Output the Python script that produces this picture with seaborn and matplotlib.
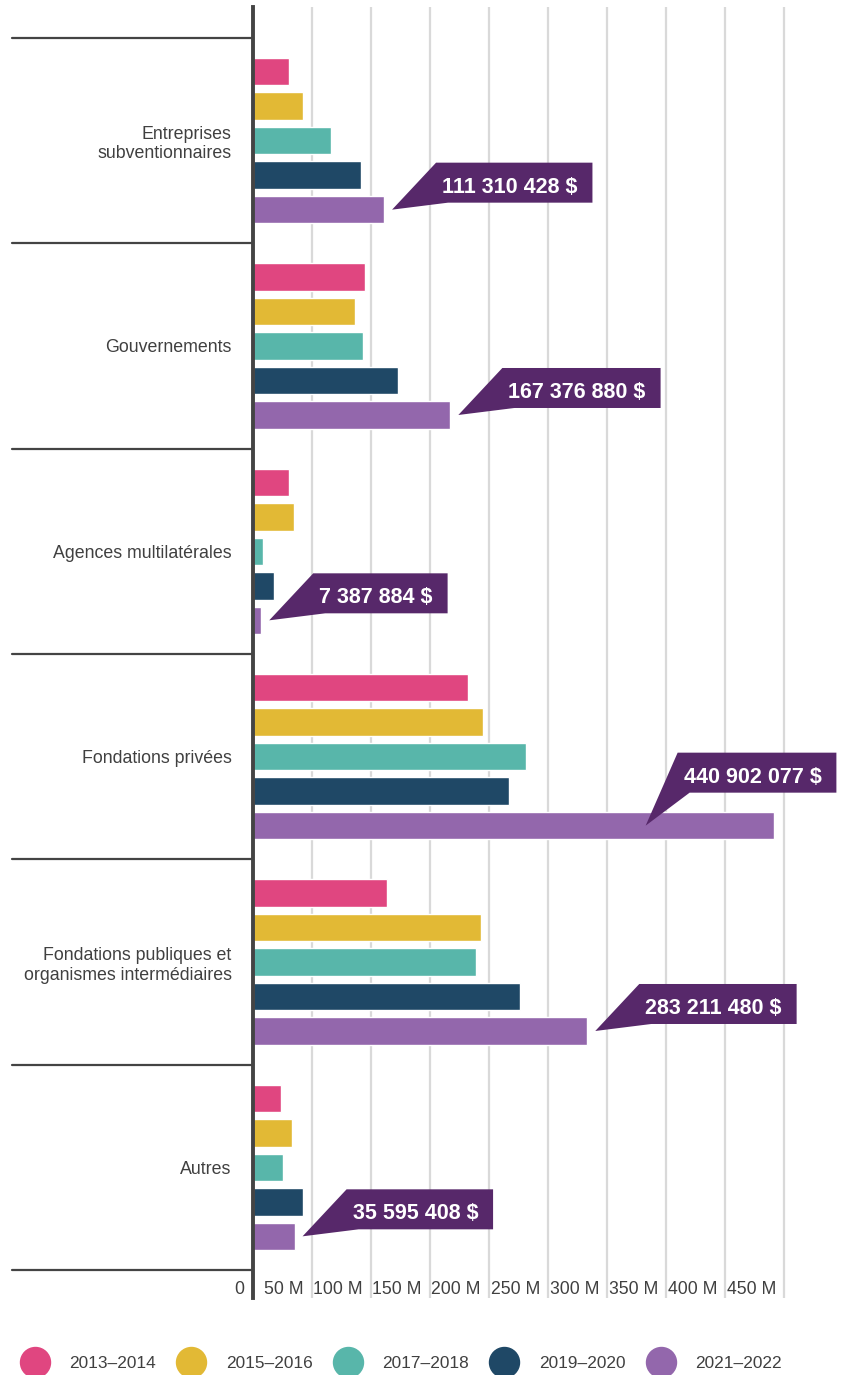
import numpy as np
import pandas as pd
import matplotlib
matplotlib.use("Agg")
import matplotlib.pyplot as plt
import seaborn as sns
from matplotlib.transforms import ScaledTranslation, blended_transform_factory
from matplotlib.patches import Polygon
from matplotlib.lines import Line2D

# ---------------- data ----------------
categories = [
    "Entreprises\nsubventionnaires",
    "Gouvernements",
    "Agences multilatérales",
    "Fondations privées",
    "Fondations publiques et\norganismes intermédiaires",
    "Autres",
]
periods = ["2013–2014", "2015–2016", "2017–2018", "2019–2020", "2021–2022"]
# values in millions of $
v_2013_2014 = [31.3, 95.6, 31.3, 181.9, 114.2, 24.5]
v_2015_2016 = [43.1, 87.1, 34.7, 195.4, 193.7, 33.0]
v_2017_2018 = [66.8, 93.9, 9.3, 231.0, 188.7, 26.2]
v_2019_2020 = [92.2, 122.7, 17.8, 217.4, 225.9, 43.1]
v_2021_2022 = [111.310428, 167.376880, 7.387884, 440.902077, 283.211480, 35.595408]
callout_labels = ["111 310 428 $", "167 376 880 $", "7 387 884 $",
                  "440 902 077 $", "283 211 480 $", "35 595 408 $"]
tick_values = [0, 50, 100, 150, 200, 250, 300, 350, 400, 450]
tick_labels = ["0", "50 M", "100 M", "150 M", "200 M", "250 M",
               "300 M", "350 M", "400 M", "450 M"]

colors = ["#E04680", "#E2B935", "#58B6AA", "#1F4866", "#9367AC"]
callout_color = "#57286A"
text_color = "#404040"
axis_color = "#444444"

series = [v_2013_2014, v_2015_2016, v_2017_2018, v_2019_2020, v_2021_2022]
df = pd.DataFrame({
    "category": categories * len(periods),
    "period": np.repeat(periods, len(categories)),
    "value": np.concatenate(series),
})

# ---------------- style ----------------
sns.set_theme(style="white")
plt.rcParams["font.family"] = ["Liberation Sans", "DejaVu Sans"]

W, H = 846, 1375
fig = plt.figure(figsize=(W / 100, H / 100), dpi=100)
ax_l, ax_r, ax_t, ax_b = 252.5, 843.5, 7, 1298
ax = fig.add_axes([ax_l / W, 1 - ax_b / H, (ax_r - ax_l) / W, (ax_b - ax_t) / H])

group_width = 0.84
sns.barplot(data=df, y="category", x="value", hue="period", order=categories,
            hue_order=periods, palette=colors, orient="y", width=group_width,
            gap=0.2, saturation=1, legend=False, ax=ax, errorbar=None)

band_top, band_bot = 38, 1270
band = (band_bot - band_top) / len(categories)
ax.set_ylim(len(categories) - 0.5 + (ax_b - band_bot) / band,
            -0.5 - (band_top - ax_t) / band)
ax.set_xlim(0, 500)

ax.set_xticks(tick_values[1:])
ax.grid(axis="x", color="#d9d9d9", lw=1.6)
ax.grid(axis="y", visible=False)
ax.set_axisbelow(True)
ax.tick_params(axis="x", length=0, labelbottom=False)
ax.tick_params(axis="y", length=0, pad=15, labelsize=12.8, labelcolor=text_color)
ax.set_xlabel("")
ax.set_ylabel("")
for s in ["top", "right", "bottom"]:
    ax.spines[s].set_visible(False)
ax.spines["left"].set_color(axis_color)
ax.spines["left"].set_linewidth(2.8)

# separators between categories
sep_trans = blended_transform_factory(fig.transFigure, ax.transData)
for b in np.arange(-0.5, len(categories), 1.0):
    fig.add_artist(Line2D([12 / W, ax_l / W], [b, b], transform=sep_trans,
                          color=axis_color, lw=1.6, clip_on=False))

# x tick labels drawn inside the plot bottom
lab_trans = blended_transform_factory(ax.transData, ax.transAxes) + \
    ScaledTranslation(-8 / 100, 0, fig.dpi_scale_trans)
for tv, tl in zip(tick_values, tick_labels):
    ax.text(tv, (ax_b - 1289) / (ax_b - ax_t), tl, transform=lab_trans,
            ha="right", va="center", fontsize=12.7, color=text_color)

# callouts
renderer = fig.canvas.get_renderer()
slot = group_width / len(periods)
purple_off = -group_width / 2 + slot * (len(periods) - 0.5)
for i, (val, lab) in enumerate(zip(v_2021_2022, callout_labels)):
    if val > 400:
        tip_dx, box_l, box_top, box_bot = -128, 32, -73, -33
    else:
        tip_dx, box_l, box_top, box_bot = 8, 44, -47, -7
    tip_dy = 0
    base = fig.dpi_scale_trans + ScaledTranslation(val, i + purple_off, ax.transData)
    L = tip_dx + box_l
    top = tip_dy + box_top
    bot = tip_dy + box_bot

    def p(x, y):
        return (x / 100, -y / 100)

    t = ax.text(*p(L + 6, top + 30), lab, transform=base, ha="left",
                va="baseline", fontsize=15.5, fontweight="bold", color="white",
                zorder=6, clip_on=False)
    tw = t.get_window_extent(renderer).width
    R = L + 6 + tw + 15
    poly = Polygon([p(L, top), p(R, top), p(R, bot), p(L + 12, bot), p(tip_dx, tip_dy)],
                   closed=True, transform=base, facecolor=callout_color,
                   edgecolor="none", zorder=5, clip_on=False)
    ax.add_patch(poly)

# legend
handles = [Line2D([], [], marker="o", ls="", ms=21.6, mfc=c, mec=c) for c in colors]
fig.legend(handles, periods, loc="center", bbox_to_anchor=(401 / W, 12 / H),
           ncol=5, frameon=False, fontsize=12.4, handlelength=1.7,
           handletextpad=1.15, columnspacing=1.2, borderpad=0,
           labelcolor=text_color)

fig.savefig("out.png", dpi=100)
